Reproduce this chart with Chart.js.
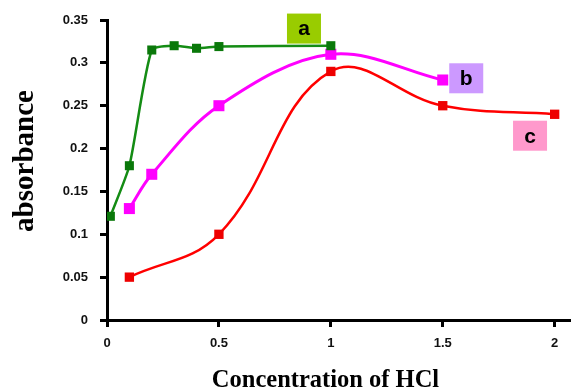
<!DOCTYPE html>
<html>
<head>
<meta charset="utf-8">
<script src="https://cdn.jsdelivr.net/npm/chart.js@4.4.1/dist/chart.umd.min.js"></script>
<style>
  html, body { margin: 0; padding: 0; background: #ffffff; overflow: hidden; }
  #wrap { width: 571px; height: 390px; position: relative; }
  canvas { display: block; }
</style>
</head>
<body>
<div id="wrap"><canvas id="c" width="571" height="390"></canvas></div>
<script>
// ---- data ----
const seriesNames = ['a', 'b', 'c'];
const xA = [0.015, 0.1, 0.2, 0.3, 0.4, 0.5, 1.0];
const yA = [0.121, 0.18, 0.315, 0.32, 0.317, 0.319, 0.32];
const xB = [0.1, 0.2, 0.5, 1.0, 1.5];
const yB = [0.13, 0.17, 0.25, 0.31, 0.28];
const xC = [0.1, 0.5, 1.0, 1.5, 2.0];
const yC = [0.05, 0.1, 0.29, 0.25, 0.24];
const xTicks = [0, 0.5, 1, 1.5, 2];
const yTicks = [0, 0.05, 0.1, 0.15, 0.2, 0.25, 0.3, 0.35];
const xTitle = 'Concentration of HCl';
const yTitle = 'absorbance';

const toPts = (xs, ys) => xs.map((x, i) => ({ x: x, y: ys[i] }));

// series label boxes, anchored in data coordinates
const labelBoxes = [
  { text: seriesNames[0], x: 0.88, y: 0.34,  color: '#99cc00' },
  { text: seriesNames[1], x: 1.605, y: 0.282, color: '#cc99ff' },
  { text: seriesNames[2], x: 1.89, y: 0.215, color: '#ff99cc' }
];

const decorPlugin = {
  id: 'decor',
  afterDatasetsDraw(chart) {
    const ctx = chart.ctx;
    const xs = chart.scales.x, ys = chart.scales.y;
    ctx.save();
    labelBoxes.forEach(b => {
      const cx = xs.getPixelForValue(b.x), cy = ys.getPixelForValue(b.y);
      ctx.fillStyle = b.color;
      ctx.fillRect(cx - 17, cy - 15, 34, 30);
      ctx.fillStyle = '#000';
      ctx.font = 'bold 21px "Liberation Sans", Arial, sans-serif';
      ctx.textAlign = 'center';
      ctx.textBaseline = 'middle';
      ctx.fillText(b.text, cx, cy + 1);
    });
    ctx.restore();
  },
  afterDraw(chart) {
    const ctx = chart.ctx;
    ctx.save();
    ctx.fillStyle = '#000';
    ctx.font = 'bold 24.5px "Liberation Serif", "Times New Roman", serif';
    ctx.textAlign = 'center';
    ctx.textBaseline = 'alphabetic';
    ctx.fillText(xTitle, 325.5, 387);
    ctx.translate(33, 161);
    ctx.rotate(-Math.PI / 2);
    ctx.font = 'bold 29px "Liberation Serif", "Times New Roman", serif';
    ctx.fillText(yTitle, 0, 0);
    ctx.restore();
  }
};

const common = { fill: false, pointStyle: 'rect', pointBorderWidth: 0 };

new Chart(document.getElementById('c'), {
  type: 'line',
  data: {
    datasets: [
      Object.assign({}, common, {
        label: seriesNames[0], data: toPts(xA, yA), tension: 0.2,
        borderColor: '#148c14', backgroundColor: '#0a780a', borderWidth: 2.5,
        pointRadius: 6.4
      }),
      Object.assign({}, common, {
        label: seriesNames[1], data: toPts(xB, yB), tension: 0.35,
        borderColor: '#ff00ff', backgroundColor: '#ff00ff', borderWidth: 3,
        pointRadius: 7.8
      }),
      Object.assign({}, common, {
        label: seriesNames[2], data: toPts(xC, yC), tension: 0.4,
        borderColor: '#ff0000', backgroundColor: '#ee0000', borderWidth: 2.5,
        pointRadius: 6.6
      })
    ]
  },
  options: {
    responsive: false,
    animation: false,
    layout: { autoPadding: false, padding: { left: 0, right: 0, top: 20, bottom: 0 } },
    plugins: { legend: { display: false }, tooltip: { enabled: false } },
    scales: {
      x: {
        type: 'linear', min: 0, max: 2.073,
        afterFit(s) { s.height = 70; s.paddingLeft = 0; s.paddingRight = 0; },
        afterBuildTicks(s) { s.ticks = xTicks.map(v => ({ value: v })); },
        ticks: {
          color: '#111', padding: 9,
          font: { family: '"Liberation Sans", Arial, sans-serif', size: 13, weight: 'bold' },
          callback: v => String(v)
        },
        grid: { drawOnChartArea: false, drawTicks: true, tickLength: 7, tickWidth: 3, tickColor: '#000' },
        border: { display: true, color: '#000', width: 3 }
      },
      y: {
        type: 'linear', min: 0, max: 0.35,
        afterFit(s) { s.width = 107; s.paddingTop = 0; s.paddingBottom = 0; },
        afterBuildTicks(s) { s.ticks = yTicks.map(v => ({ value: v })); },
        ticks: {
          color: '#111', padding: 12,
          font: { family: '"Liberation Sans", Arial, sans-serif', size: 13, weight: 'bold' },
          callback: v => String(v)
        },
        grid: { drawOnChartArea: false, drawTicks: true, tickLength: 7, tickWidth: 3, tickColor: '#000' },
        border: { display: true, color: '#000', width: 3 }
      }
    }
  },
  plugins: [decorPlugin]
});
</script>
</body>
</html>
